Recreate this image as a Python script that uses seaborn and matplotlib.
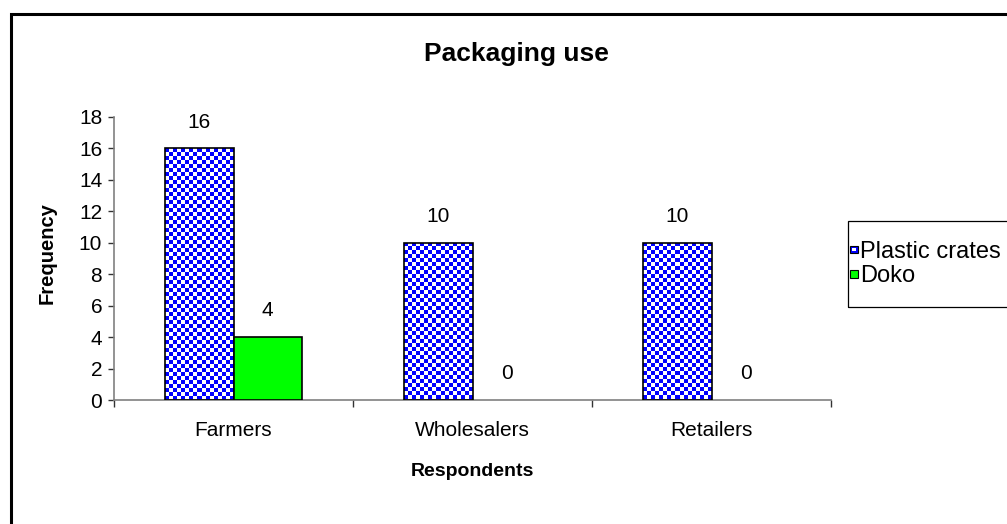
import numpy as np
import pandas as pd
import matplotlib
matplotlib.use("Agg")
import matplotlib.pyplot as plt
from matplotlib.patches import Rectangle
from matplotlib.legend_handler import HandlerBase
import seaborn as sns

categories = ["Farmers", "Wholesalers", "Retailers"]
plastic_crates = [16, 10, 10]
doko = [4, 0, 0]
series_names = ["Plastic crates", "Doko"]
y_ticks = list(range(0, 20, 2))

BLUE = "#0000FF"
GREEN = "#00FF00"
AXIS_GRAY = "#808080"

df = pd.DataFrame({
    "Respondents": categories * 2,
    "Frequency": plastic_crates + doko,
    "Packaging": [series_names[0]] * len(categories) + [series_names[1]] * len(categories),
})

sns.set_theme(style="white")
plt.rcParams["font.family"] = ["Liberation Sans", "DejaVu Sans"]
plt.rcParams["text.color"] = "black"
plt.rcParams["axes.labelcolor"] = "black"
plt.rcParams["xtick.color"] = "black"
plt.rcParams["ytick.color"] = "black"

DPI = 100
W, H = 1007, 524
fig = plt.figure(figsize=(W / DPI, H / DPI), dpi=DPI)
fig.patch.set_facecolor("white")

# plot area in pixel terms
ax_l, ax_r, ax_top, ax_bot = 114, 831, 117, 400
ax = fig.add_axes([ax_l / W, 1 - ax_bot / H, (ax_r - ax_l) / W, (ax_bot - ax_top) / H])
ax.set_facecolor("white")

sns.barplot(
    data=df, x="Respondents", y="Frequency", hue="Packaging",
    hue_order=series_names, order=categories,
    palette={series_names[0]: "white", series_names[1]: GREEN},
    width=0.573, saturation=1, edgecolor="black", linewidth=1.2,
    legend=False, ax=ax,
)

ax.set_xlim(-0.5, len(categories) - 0.5)
ax.set_ylim(0, 18)
ax.set_yticks(y_ticks)
ax.set_yticklabels([str(t) for t in y_ticks], fontsize=15)

# category labels centred, tick marks on category boundaries
ax.set_xticks(range(len(categories)))
ax.set_xticklabels(categories, fontsize=15)
ax.set_xticks(np.arange(-0.5, len(categories), 1.0), minor=True)
ax.tick_params(axis="x", which="major", length=0, pad=15)
ax.tick_params(axis="x", which="minor", length=5, width=1, color="#333333", direction="out", bottom=True)
ax.tick_params(axis="y", which="major", length=4.5, width=1, color="#333333", direction="out", left=True, pad=4)

for side in ("top", "right"):
    ax.spines[side].set_visible(False)
for side in ("left", "bottom"):
    ax.spines[side].set_color(AXIS_GRAY)
    ax.spines[side].set_linewidth(1.2)

ax.set_xlabel("Respondents", fontsize=14, fontweight="bold")
ax.xaxis.set_label_coords(0.5, (ax_bot - 472) / (ax_bot - ax_top))
ax.xaxis.label.set_va("center")
ax.set_ylabel("Frequency", fontsize=14.5, fontweight="bold")
ax.yaxis.set_label_coords((47 - ax_l) / (ax_r - ax_l), (ax_bot - 253) / (ax_bot - ax_top))
ax.yaxis.label.set_va("center")

# checkerboard fill for the plastic crates bars
plastic_bars = ax.containers[0]
doko_bars = ax.containers[1]
cell = 4
for bar in plastic_bars:
    bar.set_facecolor("none")
    bar.set_zorder(3)
    if bar.get_height() <= 0:
        continue
    bb = bar.get_window_extent()
    wpx = int(round(bb.width))
    hpx = int(round(bb.height))
    yy, xx = np.mgrid[0:hpx, 0:wpx]
    mask = ((xx // cell) + (yy // cell)) % 2 == 0
    img = np.ones((hpx, wpx, 3))
    img[mask] = [0.0, 0.0, 1.0]
    x0, y0 = bar.get_x(), bar.get_y()
    im = ax.imshow(img, extent=(x0, x0 + bar.get_width(), y0, y0 + bar.get_height()),
                   interpolation="nearest", aspect="auto", zorder=2, origin="upper")
    im.set_clip_path(bar)

for bar in doko_bars:
    bar.set_zorder(3)

# hide zero-height outlines
for cont in ax.containers:
    for bar in cont:
        if bar.get_height() <= 0:
            bar.set_visible(False)

ax.set_xlim(-0.5, len(categories) - 0.5)
ax.set_ylim(0, 18)

# value labels
for cont, vals in zip(ax.containers, [plastic_crates, doko]):
    for bar, v in zip(cont, vals):
        ax.annotate(str(v), (bar.get_x() + bar.get_width() / 2, v),
                    xytext=(0, 19), textcoords="offset points",
                    ha="center", va="center", fontsize=15, color="black")

# title
fig.text(516 / W, 1 - 61 / H, "Packaging use", ha="center", va="baseline",
         fontsize=19, fontweight="bold", color="black")


# legend
class SquareHandler(HandlerBase):
    def __init__(self, face, inner=None):
        super().__init__()
        self.face = face
        self.inner = inner

    def create_artists(self, legend, orig_handle, xdescent, ydescent, width, height, fontsize, trans):
        side = min(width, height)
        x = -xdescent + (width - side) / 2
        y = -ydescent + (height - side) / 2
        arts = [Rectangle((x, y), side, side, facecolor=self.face, edgecolor="black",
                          linewidth=0.8, transform=trans)]
        if self.inner is not None:
            s2 = side * 0.45
            arts.append(Rectangle((x + (side - s2) / 2, y + (side - s2) / 2), s2, s2,
                                  facecolor=self.inner, edgecolor="none", transform=trans))
        return arts


h_plastic = Rectangle((0, 0), 1, 1)
h_doko = Rectangle((0, 0), 1, 1)
fig.legend(
    [h_plastic, h_doko], series_names,
    handler_map={h_plastic: SquareHandler(BLUE, "white"), h_doko: SquareHandler(GREEN)},
    loc="upper left", bbox_to_anchor=(850 / W, 1 - 241 / H),
    frameon=False, fontsize=17, borderpad=0, borderaxespad=0,
    handlelength=0.33, handleheight=0.33, handletextpad=0.1, labelspacing=0.1,
)
fig.patches.append(Rectangle((847.5 / W, 1 - 307 / H), (1100 - 847.5) / W, 86 / H,
                             transform=fig.transFigure, facecolor="none",
                             edgecolor="black", linewidth=0.9, zorder=5))

# outer chart border, running off the right and bottom edges
fig.patches.append(Rectangle((10.5 / W, -0.2), 1.3, 1.2 - 13.5 / H,
                             transform=fig.transFigure, facecolor="none",
                             edgecolor="black", linewidth=2.2, zorder=5))

fig.savefig("out.png", dpi=DPI, facecolor="white")
